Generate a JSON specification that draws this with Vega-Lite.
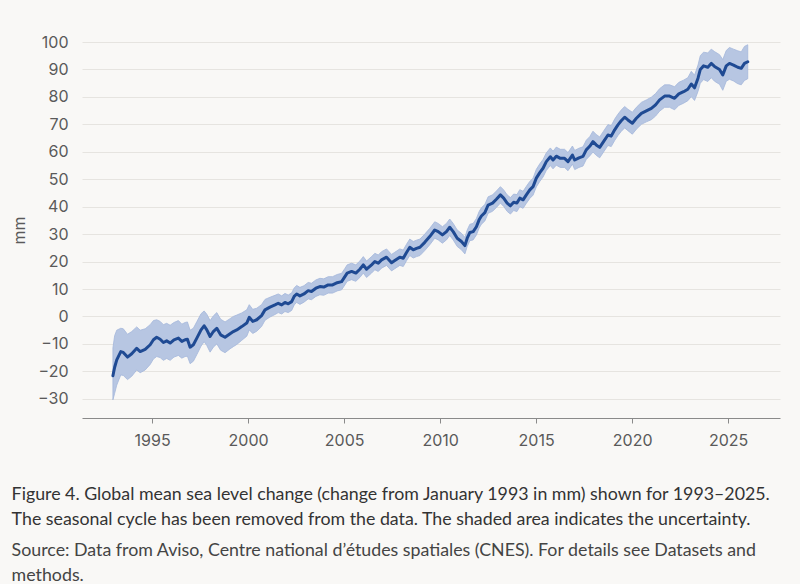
{
  "$schema": "https://vega.github.io/schema/vega-lite/v6.json",
  "autosize": {"type": "none"},
  "width": 698,
  "height": 376,
  "padding": {"left": 82, "top": 42, "right": 20, "bottom": 166},
  "background": "#f9f8f6",
  "title": {
    "text": ["Figure 4. Global mean sea level change (change from January 1993 in mm) shown for 1993–2025.", "The seasonal cycle has been removed from the data. The shaded area indicates the uncertainty."],
    "subtitle": ["Source: Data from Aviso, Centre national d’études spatiales (CNES). For details see Datasets and", "methods."],
    "orient": "bottom",
    "anchor": "start",
    "frame": "bounds",
    "font": "Lato",
    "fontSize": 17.8,
    "fontWeight": "normal",
    "color": "#333333",
    "lineHeight": 25,
    "subtitleFont": "Lato",
    "subtitleFontSize": 17.8,
    "subtitleColor": "#444444",
    "subtitleLineHeight": 25,
    "subtitlePadding": 13,
    "offset": 38
  },
  "data": {"values": [
    {"t": 1992.96, "v": -21.6, "lo": -30.4, "hi": -11.5},
    {"t": 1993.05, "v": -18.5, "lo": -28.0, "hi": -7.0},
    {"t": 1993.16, "v": -15.8, "lo": -25.0, "hi": -5.0},
    {"t": 1993.37, "v": -12.8, "lo": -21.3, "hi": -4.3},
    {"t": 1993.5, "v": -13.1, "lo": -21.5, "hi": -4.5},
    {"t": 1993.72, "v": -14.8, "lo": -23.0, "hi": -6.5},
    {"t": 1993.94, "v": -13.6, "lo": -21.8, "hi": -5.5},
    {"t": 1994.2, "v": -11.6, "lo": -19.5, "hi": -3.8},
    {"t": 1994.38, "v": -12.8, "lo": -20.5, "hi": -5.0},
    {"t": 1994.64, "v": -12.0, "lo": -19.5, "hi": -4.5},
    {"t": 1994.9, "v": -10.3, "lo": -17.5, "hi": -3.0},
    {"t": 1995.07, "v": -8.5, "lo": -15.5, "hi": -1.5},
    {"t": 1995.24, "v": -7.6, "lo": -14.6, "hi": -1.2},
    {"t": 1995.42, "v": -8.3, "lo": -15.0, "hi": -1.8},
    {"t": 1995.59, "v": -9.5, "lo": -16.0, "hi": -3.0},
    {"t": 1995.76, "v": -8.9, "lo": -15.3, "hi": -2.5},
    {"t": 1995.94, "v": -9.7, "lo": -16.0, "hi": -3.2},
    {"t": 1996.14, "v": -8.5, "lo": -14.8, "hi": -2.2},
    {"t": 1996.37, "v": -7.9, "lo": -14.2, "hi": -1.5},
    {"t": 1996.55, "v": -9.1, "lo": -15.2, "hi": -2.8},
    {"t": 1996.72, "v": -8.5, "lo": -14.6, "hi": -2.2},
    {"t": 1996.84, "v": -8.3, "lo": -14.5, "hi": -2.0},
    {"t": 1996.98, "v": -11.2, "lo": -17.2, "hi": -5.0},
    {"t": 1997.15, "v": -10.3, "lo": -16.3, "hi": -4.3},
    {"t": 1997.33, "v": -7.9, "lo": -13.9, "hi": -1.9},
    {"t": 1997.55, "v": -4.9, "lo": -10.8, "hi": 1.0},
    {"t": 1997.71, "v": -3.4, "lo": -9.2, "hi": 2.0},
    {"t": 1997.85, "v": -4.9, "lo": -10.6, "hi": 0.8},
    {"t": 1998.02, "v": -7.3, "lo": -13.0, "hi": -1.5},
    {"t": 1998.19, "v": -5.5, "lo": -11.2, "hi": 0.2},
    {"t": 1998.37, "v": -4.3, "lo": -10.0, "hi": 1.4},
    {"t": 1998.57, "v": -6.7, "lo": -12.3, "hi": -1.0},
    {"t": 1998.8, "v": -7.6, "lo": -13.2, "hi": -2.0},
    {"t": 1999.06, "v": -6.3, "lo": -11.8, "hi": -0.8},
    {"t": 1999.23, "v": -5.5, "lo": -11.0, "hi": 0.0},
    {"t": 1999.41, "v": -4.9, "lo": -10.2, "hi": 0.5},
    {"t": 1999.67, "v": -3.7, "lo": -8.7, "hi": 1.3},
    {"t": 1999.93, "v": -2.4, "lo": -7.2, "hi": 2.4},
    {"t": 2000.06, "v": -0.3, "lo": -4.9, "hi": 4.3},
    {"t": 2000.24, "v": -1.8, "lo": -6.2, "hi": 2.6},
    {"t": 2000.45, "v": -1.2, "lo": -5.4, "hi": 3.0},
    {"t": 2000.7, "v": 0.3, "lo": -3.7, "hi": 4.3},
    {"t": 2000.88, "v": 2.4, "lo": -1.4, "hi": 6.2},
    {"t": 2001.14, "v": 3.4, "lo": -0.2, "hi": 7.0},
    {"t": 2001.4, "v": 4.2, "lo": 0.7, "hi": 7.7},
    {"t": 2001.57, "v": 4.8, "lo": 1.4, "hi": 8.2},
    {"t": 2001.75, "v": 4.2, "lo": 0.9, "hi": 7.5},
    {"t": 2001.92, "v": 5.1, "lo": 1.8, "hi": 8.4},
    {"t": 2002.09, "v": 4.6, "lo": 1.4, "hi": 7.8},
    {"t": 2002.27, "v": 5.4, "lo": 2.2, "hi": 8.6},
    {"t": 2002.4, "v": 7.3, "lo": 4.2, "hi": 10.4},
    {"t": 2002.53, "v": 8.2, "lo": 5.1, "hi": 11.3},
    {"t": 2002.7, "v": 7.5, "lo": 4.4, "hi": 10.6},
    {"t": 2002.91, "v": 8.2, "lo": 5.2, "hi": 11.2},
    {"t": 2003.13, "v": 9.4, "lo": 6.4, "hi": 12.4},
    {"t": 2003.3, "v": 9.1, "lo": 6.1, "hi": 12.1},
    {"t": 2003.53, "v": 10.3, "lo": 7.3, "hi": 13.3},
    {"t": 2003.74, "v": 10.9, "lo": 7.9, "hi": 13.9},
    {"t": 2003.94, "v": 10.7, "lo": 7.7, "hi": 13.7},
    {"t": 2004.17, "v": 11.5, "lo": 8.5, "hi": 14.5},
    {"t": 2004.4, "v": 11.5, "lo": 8.5, "hi": 14.5},
    {"t": 2004.64, "v": 12.3, "lo": 9.3, "hi": 15.3},
    {"t": 2004.87, "v": 12.7, "lo": 9.7, "hi": 15.7},
    {"t": 2005.04, "v": 14.5, "lo": 11.5, "hi": 17.5},
    {"t": 2005.16, "v": 15.8, "lo": 12.8, "hi": 18.8},
    {"t": 2005.39, "v": 16.4, "lo": 13.4, "hi": 19.4},
    {"t": 2005.61, "v": 15.8, "lo": 12.8, "hi": 18.8},
    {"t": 2005.82, "v": 17.2, "lo": 14.2, "hi": 20.2},
    {"t": 2006.0, "v": 18.8, "lo": 15.8, "hi": 21.8},
    {"t": 2006.17, "v": 17.2, "lo": 14.2, "hi": 20.2},
    {"t": 2006.43, "v": 18.8, "lo": 15.8, "hi": 21.8},
    {"t": 2006.6, "v": 20.0, "lo": 17.0, "hi": 23.0},
    {"t": 2006.78, "v": 19.4, "lo": 16.4, "hi": 22.4},
    {"t": 2006.95, "v": 20.6, "lo": 17.6, "hi": 23.6},
    {"t": 2007.21, "v": 21.6, "lo": 18.6, "hi": 24.6},
    {"t": 2007.47, "v": 19.6, "lo": 16.6, "hi": 22.6},
    {"t": 2007.64, "v": 20.4, "lo": 17.4, "hi": 23.4},
    {"t": 2007.9, "v": 21.6, "lo": 18.6, "hi": 24.6},
    {"t": 2008.08, "v": 21.2, "lo": 18.2, "hi": 24.2},
    {"t": 2008.25, "v": 23.3, "lo": 20.3, "hi": 26.3},
    {"t": 2008.42, "v": 25.2, "lo": 22.2, "hi": 28.2},
    {"t": 2008.6, "v": 24.3, "lo": 21.3, "hi": 27.3},
    {"t": 2008.77, "v": 24.8, "lo": 21.8, "hi": 27.8},
    {"t": 2008.95, "v": 25.2, "lo": 22.2, "hi": 28.2},
    {"t": 2009.2, "v": 27.0, "lo": 24.0, "hi": 30.0},
    {"t": 2009.46, "v": 29.1, "lo": 26.1, "hi": 32.1},
    {"t": 2009.72, "v": 31.5, "lo": 28.5, "hi": 34.5},
    {"t": 2009.9, "v": 30.9, "lo": 27.9, "hi": 33.9},
    {"t": 2010.12, "v": 29.7, "lo": 26.7, "hi": 32.7},
    {"t": 2010.33, "v": 30.9, "lo": 27.9, "hi": 33.9},
    {"t": 2010.5, "v": 32.5, "lo": 29.5, "hi": 35.5},
    {"t": 2010.68, "v": 30.9, "lo": 27.9, "hi": 33.9},
    {"t": 2010.89, "v": 28.5, "lo": 25.5, "hi": 31.5},
    {"t": 2011.11, "v": 27.3, "lo": 24.3, "hi": 30.3},
    {"t": 2011.29, "v": 25.8, "lo": 22.8, "hi": 28.8},
    {"t": 2011.41, "v": 28.5, "lo": 25.5, "hi": 31.5},
    {"t": 2011.55, "v": 30.6, "lo": 27.6, "hi": 33.6},
    {"t": 2011.72, "v": 30.9, "lo": 27.9, "hi": 33.9},
    {"t": 2011.89, "v": 32.7, "lo": 29.7, "hi": 35.7},
    {"t": 2012.03, "v": 35.2, "lo": 32.2, "hi": 38.2},
    {"t": 2012.15, "v": 36.6, "lo": 33.6, "hi": 39.6},
    {"t": 2012.33, "v": 37.8, "lo": 34.8, "hi": 40.8},
    {"t": 2012.5, "v": 40.6, "lo": 37.6, "hi": 43.6},
    {"t": 2012.73, "v": 41.3, "lo": 38.3, "hi": 44.3},
    {"t": 2012.93, "v": 42.7, "lo": 39.7, "hi": 45.7},
    {"t": 2013.14, "v": 44.3, "lo": 41.3, "hi": 47.3},
    {"t": 2013.31, "v": 43.1, "lo": 40.1, "hi": 46.1},
    {"t": 2013.49, "v": 41.3, "lo": 38.3, "hi": 44.3},
    {"t": 2013.66, "v": 40.3, "lo": 37.3, "hi": 43.3},
    {"t": 2013.83, "v": 41.6, "lo": 38.6, "hi": 44.6},
    {"t": 2014.0, "v": 41.3, "lo": 38.2, "hi": 44.4},
    {"t": 2014.15, "v": 43.1, "lo": 40.0, "hi": 46.2},
    {"t": 2014.32, "v": 42.5, "lo": 39.4, "hi": 45.6},
    {"t": 2014.49, "v": 44.3, "lo": 41.2, "hi": 47.4},
    {"t": 2014.67, "v": 46.1, "lo": 43.0, "hi": 49.2},
    {"t": 2014.84, "v": 47.3, "lo": 44.2, "hi": 50.4},
    {"t": 2015.01, "v": 50.4, "lo": 47.2, "hi": 53.6},
    {"t": 2015.19, "v": 52.4, "lo": 49.2, "hi": 55.6},
    {"t": 2015.36, "v": 54.0, "lo": 50.8, "hi": 57.2},
    {"t": 2015.53, "v": 56.4, "lo": 53.2, "hi": 59.6},
    {"t": 2015.74, "v": 58.2, "lo": 55.0, "hi": 61.4},
    {"t": 2015.88, "v": 57.0, "lo": 53.8, "hi": 60.2},
    {"t": 2016.05, "v": 58.4, "lo": 55.1, "hi": 61.7},
    {"t": 2016.26, "v": 57.6, "lo": 54.3, "hi": 60.9},
    {"t": 2016.48, "v": 57.6, "lo": 54.3, "hi": 60.9},
    {"t": 2016.66, "v": 56.4, "lo": 53.1, "hi": 59.7},
    {"t": 2016.89, "v": 58.8, "lo": 55.5, "hi": 62.1},
    {"t": 2017.01, "v": 57.0, "lo": 53.5, "hi": 60.5},
    {"t": 2017.23, "v": 57.8, "lo": 54.3, "hi": 61.3},
    {"t": 2017.44, "v": 58.3, "lo": 54.8, "hi": 61.8},
    {"t": 2017.61, "v": 60.7, "lo": 57.2, "hi": 64.2},
    {"t": 2017.79, "v": 62.0, "lo": 58.5, "hi": 65.5},
    {"t": 2017.96, "v": 63.7, "lo": 59.9, "hi": 67.5},
    {"t": 2018.13, "v": 62.5, "lo": 58.7, "hi": 66.3},
    {"t": 2018.31, "v": 61.6, "lo": 57.8, "hi": 65.4},
    {"t": 2018.51, "v": 63.7, "lo": 59.9, "hi": 67.5},
    {"t": 2018.74, "v": 66.1, "lo": 62.3, "hi": 69.9},
    {"t": 2018.91, "v": 65.7, "lo": 61.9, "hi": 69.5},
    {"t": 2019.09, "v": 68.0, "lo": 64.1, "hi": 71.9},
    {"t": 2019.26, "v": 69.8, "lo": 65.9, "hi": 73.7},
    {"t": 2019.43, "v": 71.3, "lo": 67.4, "hi": 75.2},
    {"t": 2019.61, "v": 72.6, "lo": 68.7, "hi": 76.5},
    {"t": 2019.78, "v": 71.6, "lo": 67.7, "hi": 75.5},
    {"t": 2020.01, "v": 70.4, "lo": 66.4, "hi": 74.4},
    {"t": 2020.22, "v": 72.2, "lo": 68.2, "hi": 76.2},
    {"t": 2020.48, "v": 74.0, "lo": 70.0, "hi": 78.0},
    {"t": 2020.74, "v": 74.9, "lo": 70.9, "hi": 78.9},
    {"t": 2021.0, "v": 75.8, "lo": 71.7, "hi": 79.9},
    {"t": 2021.22, "v": 77.1, "lo": 73.0, "hi": 81.2},
    {"t": 2021.43, "v": 78.9, "lo": 74.8, "hi": 83.0},
    {"t": 2021.69, "v": 80.3, "lo": 76.2, "hi": 84.4},
    {"t": 2021.95, "v": 80.3, "lo": 76.2, "hi": 84.4},
    {"t": 2022.21, "v": 79.5, "lo": 75.3, "hi": 83.7},
    {"t": 2022.43, "v": 81.1, "lo": 76.9, "hi": 85.3},
    {"t": 2022.68, "v": 81.9, "lo": 77.7, "hi": 86.1},
    {"t": 2022.9, "v": 82.8, "lo": 78.6, "hi": 87.0},
    {"t": 2023.08, "v": 84.7, "lo": 80.1, "hi": 89.3},
    {"t": 2023.25, "v": 83.3, "lo": 78.7, "hi": 87.9},
    {"t": 2023.43, "v": 86.8, "lo": 82.0, "hi": 91.6},
    {"t": 2023.55, "v": 90.0, "lo": 85.0, "hi": 95.0},
    {"t": 2023.72, "v": 91.3, "lo": 86.3, "hi": 96.3},
    {"t": 2023.94, "v": 90.8, "lo": 85.6, "hi": 96.0},
    {"t": 2024.12, "v": 92.2, "lo": 87.0, "hi": 97.4},
    {"t": 2024.29, "v": 91.1, "lo": 85.7, "hi": 96.5},
    {"t": 2024.55, "v": 90.0, "lo": 84.6, "hi": 95.4},
    {"t": 2024.72, "v": 88.0, "lo": 82.4, "hi": 93.6},
    {"t": 2024.9, "v": 91.3, "lo": 85.7, "hi": 96.9},
    {"t": 2025.07, "v": 92.2, "lo": 86.4, "hi": 98.0},
    {"t": 2025.28, "v": 91.6, "lo": 85.8, "hi": 97.4},
    {"t": 2025.5, "v": 90.8, "lo": 84.8, "hi": 96.8},
    {"t": 2025.68, "v": 90.4, "lo": 84.4, "hi": 96.4},
    {"t": 2025.85, "v": 92.2, "lo": 86.0, "hi": 98.4},
    {"t": 2026.02, "v": 92.8, "lo": 86.6, "hi": 99.0}
  ]},
  "encoding": {
    "x": {
      "field": "t",
      "type": "quantitative",
      "scale": {"domain": [1991.35, 2027.7], "nice": false, "zero": false},
      "axis": {
        "title": null,
        "values": [1995, 2000, 2005, 2010, 2015, 2020, 2025],
        "format": "d",
        "grid": false,
        "domainColor": "#8a8a8a",
        "tickColor": "#8a8a8a",
        "tickSize": 5,
        "labelPadding": 9,
        "labelFont": "Inter",
        "labelFontSize": 16,
        "labelColor": "#5a5a5a"
      }
    }
  },
  "layer": [
    {
      "mark": {"type": "area", "color": "#b7c6e2", "opacity": 1, "stroke": "#a3b6da", "strokeWidth": 0.8},
      "encoding": {
        "y": {
          "field": "lo",
          "type": "quantitative",
          "title": "mm",
          "scale": {"domain": [-37, 100], "nice": false, "zero": false},
          "axis": {
            "title": "mm",
            "values": [-30, -20, -10, 0, 10, 20, 30, 40, 50, 60, 70, 80, 90, 100],
            "tickCount": 14,
            "labelOverlap": false
          }
        },
        "y2": {"field": "hi"}
      }
    },
    {
      "mark": {"type": "line", "color": "#1f4a93", "strokeWidth": 3, "strokeJoin": "round", "strokeCap": "round"},
      "encoding": {
        "y": {
          "field": "v",
          "type": "quantitative",
          "title": "mm",
          "axis": {
            "title": "mm",
            "values": [-30, -20, -10, 0, 10, 20, 30, 40, 50, 60, 70, 80, 90, 100],
            "tickCount": 14,
            "labelOverlap": false
          }
        }
      }
    }
  ],
  "config": {
    "view": {"stroke": null},
    "axisY": {
      "grid": true,
      "gridColor": "#e6e4e0",
      "gridWidth": 1,
      "domain": false,
      "ticks": false,
      "labelOverlap": false,
      "labelPadding": 14,
      "labelFont": "Inter",
      "labelFontSize": 16,
      "labelColor": "#5a5a5a",
      "titleFont": "Inter",
      "titleFontSize": 16,
      "titleFontWeight": "normal",
      "titleColor": "#5a5a5a",
      "titlePadding": 10
    }
  }
}
